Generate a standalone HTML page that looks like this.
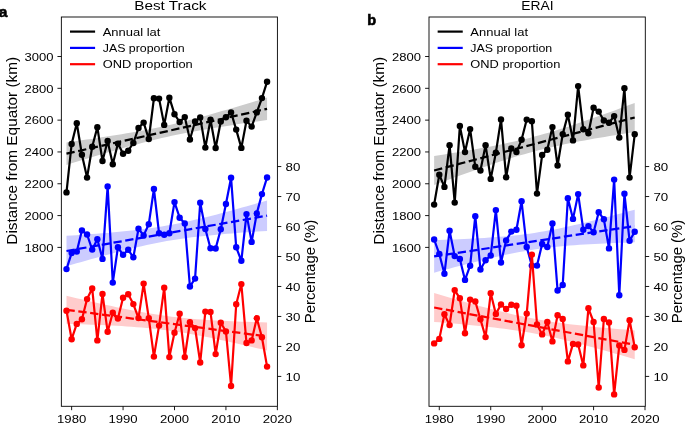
<!DOCTYPE html>
<html><head><meta charset="utf-8"><style>
html,body{margin:0;padding:0;background:#fff;}
body{width:685px;height:423px;overflow:hidden;}
svg{display:block;will-change:transform;}
</style></head><body>
<svg width="685" height="423" viewBox="0 0 685 423" font-family="'Liberation Sans', sans-serif" font-size="11.8" fill="#000">
<rect width="685" height="423" fill="#fff"/>
<path d="M66.49 142.5 L71.51 141.79 L76.52 141.07 L81.54 140.35 L86.55 139.62 L91.57 138.88 L96.58 138.13 L101.59 137.37 L106.61 136.6 L111.62 135.81 L116.64 135.01 L121.65 134.19 L126.67 133.34 L131.68 132.48 L136.69 131.59 L141.71 130.67 L146.72 129.72 L151.74 128.73 L156.75 127.71 L161.77 126.65 L166.78 125.54 L171.8 124.4 L176.81 123.22 L181.82 122 L186.84 120.74 L191.85 119.44 L196.87 118.12 L201.88 116.76 L206.9 115.38 L211.91 113.98 L216.93 112.56 L221.94 111.11 L226.95 109.66 L231.97 108.18 L236.98 106.7 L242 105.2 L247.01 103.7 L252.03 102.18 L257.04 100.66 L262.06 99.13 L267.07 97.6 L267.07 120 L262.06 120.71 L257.04 121.43 L252.03 122.15 L247.01 122.88 L242 123.62 L236.98 124.37 L231.97 125.13 L226.95 125.9 L221.94 126.69 L216.93 127.49 L211.91 128.31 L206.9 129.16 L201.88 130.02 L196.87 130.91 L191.85 131.83 L186.84 132.78 L181.82 133.77 L176.81 134.79 L171.8 135.85 L166.78 136.96 L161.77 138.1 L156.75 139.28 L151.74 140.5 L146.72 141.76 L141.71 143.06 L136.69 144.38 L131.68 145.74 L126.67 147.12 L121.65 148.52 L116.64 149.94 L111.62 151.39 L106.61 152.84 L101.59 154.32 L96.58 155.8 L91.57 157.3 L86.55 158.8 L81.54 160.32 L76.52 161.84 L71.51 163.37 L66.49 164.9 Z" fill="#cccccc" stroke="none"/>
<path d="M66.49 192.4 L71.64 144 L76.78 123.3 L81.92 154.8 L87.06 177.6 L92.21 146.7 L97.35 127.2 L102.49 161 L107.64 141 L112.78 164.2 L117.92 143.6 L123.07 153.7 L128.21 150.7 L133.35 143 L138.5 128 L143.64 122.6 L148.78 139 L153.92 98.3 L159.07 98.6 L164.21 124.9 L169.35 97.7 L174.5 114.2 L179.64 122 L184.78 117.1 L189.92 139.5 L195.07 121.5 L200.21 117.4 L205.35 147.6 L210.5 119.8 L215.64 148 L220.78 121.5 L225.93 117.2 L231.07 112.4 L236.21 129.6 L241.35 147.9 L246.5 120.7 L251.64 126.6 L256.78 112.4 L261.93 98.1 L267.07 81.8" fill="none" stroke="#000" stroke-width="2.2" stroke-linejoin="round"/>
<g fill="#000"><circle cx="66.49" cy="192.4" r="3.2"/><circle cx="71.64" cy="144" r="3.2"/><circle cx="76.78" cy="123.3" r="3.2"/><circle cx="81.92" cy="154.8" r="3.2"/><circle cx="87.06" cy="177.6" r="3.2"/><circle cx="92.21" cy="146.7" r="3.2"/><circle cx="97.35" cy="127.2" r="3.2"/><circle cx="102.49" cy="161" r="3.2"/><circle cx="107.64" cy="141" r="3.2"/><circle cx="112.78" cy="164.2" r="3.2"/><circle cx="117.92" cy="143.6" r="3.2"/><circle cx="123.07" cy="153.7" r="3.2"/><circle cx="128.21" cy="150.7" r="3.2"/><circle cx="133.35" cy="143" r="3.2"/><circle cx="138.5" cy="128" r="3.2"/><circle cx="143.64" cy="122.6" r="3.2"/><circle cx="148.78" cy="139" r="3.2"/><circle cx="153.92" cy="98.3" r="3.2"/><circle cx="159.07" cy="98.6" r="3.2"/><circle cx="164.21" cy="124.9" r="3.2"/><circle cx="169.35" cy="97.7" r="3.2"/><circle cx="174.5" cy="114.2" r="3.2"/><circle cx="179.64" cy="122" r="3.2"/><circle cx="184.78" cy="117.1" r="3.2"/><circle cx="189.92" cy="139.5" r="3.2"/><circle cx="195.07" cy="121.5" r="3.2"/><circle cx="200.21" cy="117.4" r="3.2"/><circle cx="205.35" cy="147.6" r="3.2"/><circle cx="210.5" cy="119.8" r="3.2"/><circle cx="215.64" cy="148" r="3.2"/><circle cx="220.78" cy="121.5" r="3.2"/><circle cx="225.93" cy="117.2" r="3.2"/><circle cx="231.07" cy="112.4" r="3.2"/><circle cx="236.21" cy="129.6" r="3.2"/><circle cx="241.35" cy="147.9" r="3.2"/><circle cx="246.5" cy="120.7" r="3.2"/><circle cx="251.64" cy="126.6" r="3.2"/><circle cx="256.78" cy="112.4" r="3.2"/><circle cx="261.93" cy="98.1" r="3.2"/><circle cx="267.07" cy="81.8" r="3.2"/></g>
<line x1="66.49" y1="153.7" x2="267.07" y2="108.8" stroke="#000" stroke-width="2.25" stroke-dasharray="8.33 3.6"/>
<path d="M66.49 235.8 L71.51 235.48 L76.52 235.14 L81.54 234.8 L86.55 234.45 L91.57 234.09 L96.58 233.71 L101.59 233.32 L106.61 232.92 L111.62 232.49 L116.64 232.04 L121.65 231.57 L126.67 231.07 L131.68 230.53 L136.69 229.96 L141.71 229.36 L146.72 228.71 L151.74 228.01 L156.75 227.26 L161.77 226.46 L166.78 225.61 L171.8 224.7 L176.81 223.73 L181.82 222.71 L186.84 221.65 L191.85 220.53 L196.87 219.37 L201.88 218.18 L206.9 216.95 L211.91 215.68 L216.93 214.39 L221.94 213.07 L226.95 211.74 L231.97 210.38 L236.98 209 L242 207.61 L247.01 206.21 L252.03 204.8 L257.04 203.37 L262.06 201.94 L267.07 200.5 L267.07 230.9 L262.06 231.22 L257.04 231.56 L252.03 231.9 L247.01 232.25 L242 232.61 L236.98 232.99 L231.97 233.38 L226.95 233.78 L221.94 234.21 L216.93 234.66 L211.91 235.13 L206.9 235.63 L201.88 236.17 L196.87 236.74 L191.85 237.34 L186.84 237.99 L181.82 238.69 L176.81 239.44 L171.8 240.24 L166.78 241.09 L161.77 242 L156.75 242.97 L151.74 243.99 L146.72 245.05 L141.71 246.17 L136.69 247.33 L131.68 248.52 L126.67 249.75 L121.65 251.02 L116.64 252.31 L111.62 253.63 L106.61 254.96 L101.59 256.32 L96.58 257.7 L91.57 259.09 L86.55 260.49 L81.54 261.9 L76.52 263.33 L71.51 264.76 L66.49 266.2 Z" fill="#ccccff" stroke="none"/>
<path d="M66.49 269.1 L71.64 253 L76.78 251.6 L81.92 230.4 L87.06 234.5 L92.21 249.6 L97.35 239.2 L102.49 258.9 L107.64 186.4 L112.78 282.6 L117.92 247.3 L123.07 254.8 L128.21 249.8 L133.35 257.3 L138.5 228.8 L143.64 235.4 L148.78 224.2 L153.92 189 L159.07 233.3 L164.21 234.7 L169.35 233.3 L174.5 202.1 L179.64 217.7 L184.78 223.4 L189.92 286.5 L195.07 278.6 L200.21 202.8 L205.35 229 L210.5 248.2 L215.64 248.5 L220.78 229.3 L225.93 204 L231.07 177.8 L236.21 247.3 L241.35 260.8 L246.5 214.1 L251.64 241.9 L256.78 213.4 L261.93 194.1 L267.07 177.5" fill="none" stroke="#0000ff" stroke-width="2.2" stroke-linejoin="round"/>
<g fill="#0000ff"><circle cx="66.49" cy="269.1" r="3.2"/><circle cx="71.64" cy="253" r="3.2"/><circle cx="76.78" cy="251.6" r="3.2"/><circle cx="81.92" cy="230.4" r="3.2"/><circle cx="87.06" cy="234.5" r="3.2"/><circle cx="92.21" cy="249.6" r="3.2"/><circle cx="97.35" cy="239.2" r="3.2"/><circle cx="102.49" cy="258.9" r="3.2"/><circle cx="107.64" cy="186.4" r="3.2"/><circle cx="112.78" cy="282.6" r="3.2"/><circle cx="117.92" cy="247.3" r="3.2"/><circle cx="123.07" cy="254.8" r="3.2"/><circle cx="128.21" cy="249.8" r="3.2"/><circle cx="133.35" cy="257.3" r="3.2"/><circle cx="138.5" cy="228.8" r="3.2"/><circle cx="143.64" cy="235.4" r="3.2"/><circle cx="148.78" cy="224.2" r="3.2"/><circle cx="153.92" cy="189" r="3.2"/><circle cx="159.07" cy="233.3" r="3.2"/><circle cx="164.21" cy="234.7" r="3.2"/><circle cx="169.35" cy="233.3" r="3.2"/><circle cx="174.5" cy="202.1" r="3.2"/><circle cx="179.64" cy="217.7" r="3.2"/><circle cx="184.78" cy="223.4" r="3.2"/><circle cx="189.92" cy="286.5" r="3.2"/><circle cx="195.07" cy="278.6" r="3.2"/><circle cx="200.21" cy="202.8" r="3.2"/><circle cx="205.35" cy="229" r="3.2"/><circle cx="210.5" cy="248.2" r="3.2"/><circle cx="215.64" cy="248.5" r="3.2"/><circle cx="220.78" cy="229.3" r="3.2"/><circle cx="225.93" cy="204" r="3.2"/><circle cx="231.07" cy="177.8" r="3.2"/><circle cx="236.21" cy="247.3" r="3.2"/><circle cx="241.35" cy="260.8" r="3.2"/><circle cx="246.5" cy="214.1" r="3.2"/><circle cx="251.64" cy="241.9" r="3.2"/><circle cx="256.78" cy="213.4" r="3.2"/><circle cx="261.93" cy="194.1" r="3.2"/><circle cx="267.07" cy="177.5" r="3.2"/></g>
<line x1="66.49" y1="251" x2="267.07" y2="215.7" stroke="#0000ff" stroke-width="2.25" stroke-dasharray="8.33 3.6"/>
<path d="M66.49 295.8 L71.51 296.98 L76.52 298.16 L81.54 299.32 L86.55 300.48 L91.57 301.63 L96.58 302.76 L101.59 303.88 L106.61 304.99 L111.62 306.07 L116.64 307.14 L121.65 308.18 L126.67 309.2 L131.68 310.19 L136.69 311.15 L141.71 312.07 L146.72 312.95 L151.74 313.79 L156.75 314.58 L161.77 315.33 L166.78 316.02 L171.8 316.66 L176.81 317.25 L181.82 317.8 L186.84 318.29 L191.85 318.75 L196.87 319.16 L201.88 319.54 L206.9 319.88 L211.91 320.2 L216.93 320.49 L221.94 320.76 L226.95 321.01 L231.97 321.24 L236.98 321.45 L242 321.65 L247.01 321.84 L252.03 322.02 L257.04 322.19 L262.06 322.35 L267.07 322.5 L267.07 350.5 L262.06 349.32 L257.04 348.14 L252.03 346.98 L247.01 345.82 L242 344.67 L236.98 343.54 L231.97 342.42 L226.95 341.31 L221.94 340.23 L216.93 339.16 L211.91 338.12 L206.9 337.1 L201.88 336.11 L196.87 335.15 L191.85 334.23 L186.84 333.35 L181.82 332.51 L176.81 331.72 L171.8 330.97 L166.78 330.28 L161.77 329.64 L156.75 329.05 L151.74 328.5 L146.72 328.01 L141.71 327.55 L136.69 327.14 L131.68 326.76 L126.67 326.42 L121.65 326.1 L116.64 325.81 L111.62 325.54 L106.61 325.29 L101.59 325.06 L96.58 324.85 L91.57 324.65 L86.55 324.46 L81.54 324.28 L76.52 324.11 L71.51 323.95 L66.49 323.8 Z" fill="#ffcccc" stroke="none"/>
<path d="M66.49 310.7 L71.64 339.2 L76.78 323.9 L81.92 319.3 L87.06 299.1 L92.21 288.4 L97.35 340.4 L102.49 293.9 L107.64 331.8 L112.78 312.7 L117.92 318.6 L123.07 297.8 L128.21 294.2 L133.35 304.1 L138.5 318.1 L143.64 283.6 L148.78 318.2 L153.92 356.6 L159.07 325.6 L164.21 287.7 L169.35 357.1 L174.5 332.7 L179.64 313.8 L184.78 357.1 L189.92 322.3 L195.07 328.1 L200.21 362.5 L205.35 311.6 L210.5 311.9 L215.64 354.1 L220.78 322.7 L225.93 331.4 L231.07 386 L236.21 304.3 L241.35 284.1 L246.5 343 L251.64 340.4 L256.78 318.3 L261.93 337.2 L267.07 366.6" fill="none" stroke="#ff0000" stroke-width="2.2" stroke-linejoin="round"/>
<g fill="#ff0000"><circle cx="66.49" cy="310.7" r="3.2"/><circle cx="71.64" cy="339.2" r="3.2"/><circle cx="76.78" cy="323.9" r="3.2"/><circle cx="81.92" cy="319.3" r="3.2"/><circle cx="87.06" cy="299.1" r="3.2"/><circle cx="92.21" cy="288.4" r="3.2"/><circle cx="97.35" cy="340.4" r="3.2"/><circle cx="102.49" cy="293.9" r="3.2"/><circle cx="107.64" cy="331.8" r="3.2"/><circle cx="112.78" cy="312.7" r="3.2"/><circle cx="117.92" cy="318.6" r="3.2"/><circle cx="123.07" cy="297.8" r="3.2"/><circle cx="128.21" cy="294.2" r="3.2"/><circle cx="133.35" cy="304.1" r="3.2"/><circle cx="138.5" cy="318.1" r="3.2"/><circle cx="143.64" cy="283.6" r="3.2"/><circle cx="148.78" cy="318.2" r="3.2"/><circle cx="153.92" cy="356.6" r="3.2"/><circle cx="159.07" cy="325.6" r="3.2"/><circle cx="164.21" cy="287.7" r="3.2"/><circle cx="169.35" cy="357.1" r="3.2"/><circle cx="174.5" cy="332.7" r="3.2"/><circle cx="179.64" cy="313.8" r="3.2"/><circle cx="184.78" cy="357.1" r="3.2"/><circle cx="189.92" cy="322.3" r="3.2"/><circle cx="195.07" cy="328.1" r="3.2"/><circle cx="200.21" cy="362.5" r="3.2"/><circle cx="205.35" cy="311.6" r="3.2"/><circle cx="210.5" cy="311.9" r="3.2"/><circle cx="215.64" cy="354.1" r="3.2"/><circle cx="220.78" cy="322.7" r="3.2"/><circle cx="225.93" cy="331.4" r="3.2"/><circle cx="231.07" cy="386" r="3.2"/><circle cx="236.21" cy="304.3" r="3.2"/><circle cx="241.35" cy="284.1" r="3.2"/><circle cx="246.5" cy="343" r="3.2"/><circle cx="251.64" cy="340.4" r="3.2"/><circle cx="256.78" cy="318.3" r="3.2"/><circle cx="261.93" cy="337.2" r="3.2"/><circle cx="267.07" cy="366.6" r="3.2"/></g>
<line x1="66.49" y1="309.8" x2="267.07" y2="336.5" stroke="#ff0000" stroke-width="2.25" stroke-dasharray="8.33 3.6"/>
<rect x="61.35" y="17" width="216.05" height="389.3" fill="none" stroke="#000" stroke-width="0.9"/>
<line x1="57.45" y1="56.5" x2="61.35" y2="56.5" stroke="#000" stroke-width="0.9"/>
<text x="53.45" y="60.7" text-anchor="end" textLength="29.0" lengthAdjust="spacingAndGlyphs">3000</text>
<line x1="57.45" y1="88.32" x2="61.35" y2="88.32" stroke="#000" stroke-width="0.9"/>
<text x="53.45" y="92.52" text-anchor="end" textLength="29.0" lengthAdjust="spacingAndGlyphs">2800</text>
<line x1="57.45" y1="120.13" x2="61.35" y2="120.13" stroke="#000" stroke-width="0.9"/>
<text x="53.45" y="124.33" text-anchor="end" textLength="29.0" lengthAdjust="spacingAndGlyphs">2600</text>
<line x1="57.45" y1="151.95" x2="61.35" y2="151.95" stroke="#000" stroke-width="0.9"/>
<text x="53.45" y="156.15" text-anchor="end" textLength="29.0" lengthAdjust="spacingAndGlyphs">2400</text>
<line x1="57.45" y1="183.76" x2="61.35" y2="183.76" stroke="#000" stroke-width="0.9"/>
<text x="53.45" y="187.96" text-anchor="end" textLength="29.0" lengthAdjust="spacingAndGlyphs">2200</text>
<line x1="57.45" y1="215.58" x2="61.35" y2="215.58" stroke="#000" stroke-width="0.9"/>
<text x="53.45" y="219.78" text-anchor="end" textLength="29.0" lengthAdjust="spacingAndGlyphs">2000</text>
<line x1="57.45" y1="247.4" x2="61.35" y2="247.4" stroke="#000" stroke-width="0.9"/>
<text x="53.45" y="251.6" text-anchor="end" textLength="29.0" lengthAdjust="spacingAndGlyphs">1800</text>
<line x1="277.4" y1="166.56" x2="281.3" y2="166.56" stroke="#000" stroke-width="0.9"/>
<text x="285.5" y="170.76" textLength="14.8" lengthAdjust="spacingAndGlyphs">80</text>
<line x1="277.4" y1="196.54" x2="281.3" y2="196.54" stroke="#000" stroke-width="0.9"/>
<text x="285.5" y="200.74" textLength="14.8" lengthAdjust="spacingAndGlyphs">70</text>
<line x1="277.4" y1="226.52" x2="281.3" y2="226.52" stroke="#000" stroke-width="0.9"/>
<text x="285.5" y="230.72" textLength="14.8" lengthAdjust="spacingAndGlyphs">60</text>
<line x1="277.4" y1="256.5" x2="281.3" y2="256.5" stroke="#000" stroke-width="0.9"/>
<text x="285.5" y="260.7" textLength="14.8" lengthAdjust="spacingAndGlyphs">50</text>
<line x1="277.4" y1="286.48" x2="281.3" y2="286.48" stroke="#000" stroke-width="0.9"/>
<text x="285.5" y="290.68" textLength="14.8" lengthAdjust="spacingAndGlyphs">40</text>
<line x1="277.4" y1="316.46" x2="281.3" y2="316.46" stroke="#000" stroke-width="0.9"/>
<text x="285.5" y="320.66" textLength="14.8" lengthAdjust="spacingAndGlyphs">30</text>
<line x1="277.4" y1="346.44" x2="281.3" y2="346.44" stroke="#000" stroke-width="0.9"/>
<text x="285.5" y="350.64" textLength="14.8" lengthAdjust="spacingAndGlyphs">20</text>
<line x1="277.4" y1="376.42" x2="281.3" y2="376.42" stroke="#000" stroke-width="0.9"/>
<text x="285.5" y="380.62" textLength="14.8" lengthAdjust="spacingAndGlyphs">10</text>
<line x1="71.64" y1="406.3" x2="71.64" y2="410.2" stroke="#000" stroke-width="0.9"/>
<text x="71.64" y="422.7" text-anchor="middle" textLength="29.2" lengthAdjust="spacingAndGlyphs">1980</text>
<line x1="123.07" y1="406.3" x2="123.07" y2="410.2" stroke="#000" stroke-width="0.9"/>
<text x="123.07" y="422.7" text-anchor="middle" textLength="29.2" lengthAdjust="spacingAndGlyphs">1990</text>
<line x1="174.5" y1="406.3" x2="174.5" y2="410.2" stroke="#000" stroke-width="0.9"/>
<text x="174.5" y="422.7" text-anchor="middle" textLength="29.2" lengthAdjust="spacingAndGlyphs">2000</text>
<line x1="225.93" y1="406.3" x2="225.93" y2="410.2" stroke="#000" stroke-width="0.9"/>
<text x="225.93" y="422.7" text-anchor="middle" textLength="29.2" lengthAdjust="spacingAndGlyphs">2010</text>
<line x1="277.36" y1="406.3" x2="277.36" y2="410.2" stroke="#000" stroke-width="0.9"/>
<text x="277.36" y="422.7" text-anchor="middle" textLength="29.2" lengthAdjust="spacingAndGlyphs">2020</text>
<line x1="70" y1="31.6" x2="95.1" y2="31.6" stroke="#000" stroke-width="2.2"/>
<text x="102.7" y="35.8" textLength="57.7" lengthAdjust="spacingAndGlyphs">Annual lat</text>
<line x1="70" y1="47.9" x2="95.1" y2="47.9" stroke="#0000ff" stroke-width="2.2"/>
<text x="102.7" y="52.1" textLength="81.9" lengthAdjust="spacingAndGlyphs">JAS proportion</text>
<line x1="70" y1="64.2" x2="95.1" y2="64.2" stroke="#ff0000" stroke-width="2.2"/>
<text x="102.7" y="68.4" textLength="90" lengthAdjust="spacingAndGlyphs">OND proportion</text>
<text x="170.35" y="10.2" text-anchor="middle" font-size="13.5" textLength="72.3" lengthAdjust="spacingAndGlyphs">Best Track</text>
<path d="M434.14 156 L439.16 155.21 L444.17 154.41 L449.19 153.6 L454.2 152.78 L459.22 151.95 L464.23 151.11 L469.24 150.26 L474.26 149.38 L479.27 148.49 L484.29 147.58 L489.3 146.65 L494.32 145.69 L499.33 144.69 L504.34 143.67 L509.36 142.61 L514.37 141.5 L519.39 140.36 L524.4 139.16 L529.42 137.91 L534.43 136.61 L539.45 135.26 L544.46 133.86 L549.47 132.41 L554.49 130.9 L559.5 129.36 L564.52 127.77 L569.53 126.14 L574.55 124.49 L579.56 122.8 L584.58 121.08 L589.59 119.34 L594.6 117.58 L599.62 115.81 L604.63 114.01 L609.65 112.2 L614.66 110.38 L619.68 108.55 L624.69 106.71 L629.71 104.86 L634.72 103 L634.72 132 L629.71 132.79 L624.69 133.59 L619.68 134.4 L614.66 135.22 L609.65 136.05 L604.63 136.89 L599.62 137.74 L594.6 138.62 L589.59 139.51 L584.58 140.42 L579.56 141.35 L574.55 142.31 L569.53 143.31 L564.52 144.33 L559.5 145.39 L554.49 146.5 L549.47 147.64 L544.46 148.84 L539.45 150.09 L534.43 151.39 L529.42 152.74 L524.4 154.14 L519.39 155.59 L514.37 157.1 L509.36 158.64 L504.34 160.23 L499.33 161.86 L494.32 163.51 L489.3 165.2 L484.29 166.92 L479.27 168.66 L474.26 170.42 L469.24 172.19 L464.23 173.99 L459.22 175.8 L454.2 177.62 L449.19 179.45 L444.17 181.29 L439.16 183.14 L434.14 185 Z" fill="#cccccc" stroke="none"/>
<path d="M434.14 204.6 L439.29 174.8 L444.43 186.9 L449.57 145.2 L454.71 202.6 L459.86 126 L465 152.1 L470.14 129.1 L475.29 166.8 L480.43 170.5 L485.57 145.2 L490.72 178.9 L495.86 152.7 L501 119.4 L506.14 177.2 L511.29 148.4 L516.43 152.1 L521.57 139.8 L526.72 119.6 L531.86 121.3 L537 193.6 L542.15 155 L547.29 149.8 L552.43 127.1 L557.58 165.5 L562.72 134.1 L567.86 114.8 L573 140.4 L578.15 86.1 L583.29 129.3 L588.43 133.3 L593.58 107.8 L598.72 111.6 L603.86 120.5 L609 122.7 L614.15 116.1 L619.29 137.6 L624.43 88.2 L629.58 177.6 L634.72 134.3" fill="none" stroke="#000" stroke-width="2.2" stroke-linejoin="round"/>
<g fill="#000"><circle cx="434.14" cy="204.6" r="3.2"/><circle cx="439.29" cy="174.8" r="3.2"/><circle cx="444.43" cy="186.9" r="3.2"/><circle cx="449.57" cy="145.2" r="3.2"/><circle cx="454.71" cy="202.6" r="3.2"/><circle cx="459.86" cy="126" r="3.2"/><circle cx="465" cy="152.1" r="3.2"/><circle cx="470.14" cy="129.1" r="3.2"/><circle cx="475.29" cy="166.8" r="3.2"/><circle cx="480.43" cy="170.5" r="3.2"/><circle cx="485.57" cy="145.2" r="3.2"/><circle cx="490.72" cy="178.9" r="3.2"/><circle cx="495.86" cy="152.7" r="3.2"/><circle cx="501" cy="119.4" r="3.2"/><circle cx="506.14" cy="177.2" r="3.2"/><circle cx="511.29" cy="148.4" r="3.2"/><circle cx="516.43" cy="152.1" r="3.2"/><circle cx="521.57" cy="139.8" r="3.2"/><circle cx="526.72" cy="119.6" r="3.2"/><circle cx="531.86" cy="121.3" r="3.2"/><circle cx="537" cy="193.6" r="3.2"/><circle cx="542.15" cy="155" r="3.2"/><circle cx="547.29" cy="149.8" r="3.2"/><circle cx="552.43" cy="127.1" r="3.2"/><circle cx="557.58" cy="165.5" r="3.2"/><circle cx="562.72" cy="134.1" r="3.2"/><circle cx="567.86" cy="114.8" r="3.2"/><circle cx="573" cy="140.4" r="3.2"/><circle cx="578.15" cy="86.1" r="3.2"/><circle cx="583.29" cy="129.3" r="3.2"/><circle cx="588.43" cy="133.3" r="3.2"/><circle cx="593.58" cy="107.8" r="3.2"/><circle cx="598.72" cy="111.6" r="3.2"/><circle cx="603.86" cy="120.5" r="3.2"/><circle cx="609" cy="122.7" r="3.2"/><circle cx="614.15" cy="116.1" r="3.2"/><circle cx="619.29" cy="137.6" r="3.2"/><circle cx="624.43" cy="88.2" r="3.2"/><circle cx="629.58" cy="177.6" r="3.2"/><circle cx="634.72" cy="134.3" r="3.2"/></g>
<line x1="434.14" y1="170.5" x2="634.72" y2="117.5" stroke="#000" stroke-width="2.25" stroke-dasharray="8.33 3.6"/>
<path d="M434.14 240.1 L439.16 239.94 L444.17 239.77 L449.19 239.59 L454.2 239.4 L459.22 239.2 L464.23 238.98 L469.24 238.75 L474.26 238.5 L479.27 238.23 L484.29 237.93 L489.3 237.61 L494.32 237.26 L499.33 236.87 L504.34 236.45 L509.36 235.99 L514.37 235.48 L519.39 234.91 L524.4 234.3 L529.42 233.63 L534.43 232.9 L539.45 232.11 L544.46 231.26 L549.47 230.35 L554.49 229.4 L559.5 228.39 L564.52 227.33 L569.53 226.23 L574.55 225.1 L579.56 223.93 L584.58 222.73 L589.59 221.51 L594.6 220.26 L599.62 218.99 L604.63 217.7 L609.65 216.4 L614.66 215.08 L619.68 213.75 L624.69 212.41 L629.71 211.06 L634.72 209.7 L634.72 242.3 L629.71 242.46 L624.69 242.63 L619.68 242.81 L614.66 243 L609.65 243.2 L604.63 243.42 L599.62 243.65 L594.6 243.9 L589.59 244.17 L584.58 244.47 L579.56 244.79 L574.55 245.14 L569.53 245.53 L564.52 245.95 L559.5 246.41 L554.49 246.92 L549.47 247.49 L544.46 248.1 L539.45 248.77 L534.43 249.5 L529.42 250.29 L524.4 251.14 L519.39 252.05 L514.37 253 L509.36 254.01 L504.34 255.07 L499.33 256.17 L494.32 257.3 L489.3 258.47 L484.29 259.67 L479.27 260.89 L474.26 262.14 L469.24 263.41 L464.23 264.7 L459.22 266 L454.2 267.32 L449.19 268.65 L444.17 269.99 L439.16 271.34 L434.14 272.7 Z" fill="#ccccff" stroke="none"/>
<path d="M434.14 239.5 L439.29 253.9 L444.43 273.8 L449.57 230.8 L454.71 256.1 L459.86 258.9 L465 279.9 L470.14 265.7 L475.29 216.2 L480.43 269.5 L485.57 260.2 L490.72 255.5 L495.86 210.1 L501 262.5 L506.14 240.4 L511.29 231.6 L516.43 229.7 L521.57 201.3 L526.72 247 L531.86 265.6 L537 265.6 L542.15 244 L547.29 247 L552.43 223.5 L557.58 290.5 L562.72 285 L567.86 198.2 L573 218.9 L578.15 194.1 L583.29 229.7 L588.43 226.1 L593.58 232.2 L598.72 212.2 L603.86 219.3 L609 248.4 L614.15 179.6 L619.29 295.2 L624.43 193.7 L629.58 240.8 L634.72 231.7" fill="none" stroke="#0000ff" stroke-width="2.2" stroke-linejoin="round"/>
<g fill="#0000ff"><circle cx="434.14" cy="239.5" r="3.2"/><circle cx="439.29" cy="253.9" r="3.2"/><circle cx="444.43" cy="273.8" r="3.2"/><circle cx="449.57" cy="230.8" r="3.2"/><circle cx="454.71" cy="256.1" r="3.2"/><circle cx="459.86" cy="258.9" r="3.2"/><circle cx="465" cy="279.9" r="3.2"/><circle cx="470.14" cy="265.7" r="3.2"/><circle cx="475.29" cy="216.2" r="3.2"/><circle cx="480.43" cy="269.5" r="3.2"/><circle cx="485.57" cy="260.2" r="3.2"/><circle cx="490.72" cy="255.5" r="3.2"/><circle cx="495.86" cy="210.1" r="3.2"/><circle cx="501" cy="262.5" r="3.2"/><circle cx="506.14" cy="240.4" r="3.2"/><circle cx="511.29" cy="231.6" r="3.2"/><circle cx="516.43" cy="229.7" r="3.2"/><circle cx="521.57" cy="201.3" r="3.2"/><circle cx="526.72" cy="247" r="3.2"/><circle cx="531.86" cy="265.6" r="3.2"/><circle cx="537" cy="265.6" r="3.2"/><circle cx="542.15" cy="244" r="3.2"/><circle cx="547.29" cy="247" r="3.2"/><circle cx="552.43" cy="223.5" r="3.2"/><circle cx="557.58" cy="290.5" r="3.2"/><circle cx="562.72" cy="285" r="3.2"/><circle cx="567.86" cy="198.2" r="3.2"/><circle cx="573" cy="218.9" r="3.2"/><circle cx="578.15" cy="194.1" r="3.2"/><circle cx="583.29" cy="229.7" r="3.2"/><circle cx="588.43" cy="226.1" r="3.2"/><circle cx="593.58" cy="232.2" r="3.2"/><circle cx="598.72" cy="212.2" r="3.2"/><circle cx="603.86" cy="219.3" r="3.2"/><circle cx="609" cy="248.4" r="3.2"/><circle cx="614.15" cy="179.6" r="3.2"/><circle cx="619.29" cy="295.2" r="3.2"/><circle cx="624.43" cy="193.7" r="3.2"/><circle cx="629.58" cy="240.8" r="3.2"/><circle cx="634.72" cy="231.7" r="3.2"/></g>
<line x1="434.14" y1="256.4" x2="634.72" y2="226" stroke="#0000ff" stroke-width="2.25" stroke-dasharray="8.33 3.6"/>
<path d="M434.14 293.1 L439.16 294.56 L444.17 296.02 L449.19 297.46 L454.2 298.9 L459.22 300.32 L464.23 301.74 L469.24 303.13 L474.26 304.52 L479.27 305.88 L484.29 307.22 L489.3 308.54 L494.32 309.84 L499.33 311.1 L504.34 312.33 L509.36 313.52 L514.37 314.68 L519.39 315.79 L524.4 316.85 L529.42 317.86 L534.43 318.81 L539.45 319.72 L544.46 320.58 L549.47 321.38 L554.49 322.14 L559.5 322.85 L564.52 323.52 L569.53 324.16 L574.55 324.76 L579.56 325.33 L584.58 325.87 L589.59 326.39 L594.6 326.9 L599.62 327.38 L604.63 327.85 L609.65 328.3 L614.66 328.74 L619.68 329.17 L624.69 329.59 L629.71 330 L634.72 330.4 L634.72 359.2 L629.71 357.74 L624.69 356.28 L619.68 354.84 L614.66 353.4 L609.65 351.98 L604.63 350.56 L599.62 349.17 L594.6 347.78 L589.59 346.42 L584.58 345.08 L579.56 343.76 L574.55 342.46 L569.53 341.2 L564.52 339.97 L559.5 338.78 L554.49 337.62 L549.47 336.51 L544.46 335.45 L539.45 334.44 L534.43 333.49 L529.42 332.58 L524.4 331.72 L519.39 330.92 L514.37 330.16 L509.36 329.45 L504.34 328.78 L499.33 328.14 L494.32 327.54 L489.3 326.97 L484.29 326.43 L479.27 325.91 L474.26 325.4 L469.24 324.92 L464.23 324.45 L459.22 324 L454.2 323.56 L449.19 323.13 L444.17 322.71 L439.16 322.3 L434.14 321.9 Z" fill="#ffcccc" stroke="none"/>
<path d="M434.14 343.4 L439.29 338.9 L444.43 314.3 L449.57 325.1 L454.71 290.1 L459.86 298.3 L465 333.2 L470.14 299.6 L475.29 301.5 L480.43 319.3 L485.57 337.1 L490.72 293.2 L495.86 313.9 L501 304.5 L506.14 309 L511.29 304.8 L516.43 305.8 L521.57 345.2 L526.72 313.6 L531.86 254.6 L537 324.5 L542.15 334.4 L547.29 322 L552.43 341.4 L557.58 315.2 L562.72 319 L567.86 361.4 L573 343.9 L578.15 344.4 L583.29 365.4 L588.43 308.3 L593.58 322 L598.72 387.5 L603.86 319 L609 322.4 L614.15 394.4 L619.29 345.4 L624.43 349.9 L629.58 320.3 L634.72 347.2" fill="none" stroke="#ff0000" stroke-width="2.2" stroke-linejoin="round"/>
<g fill="#ff0000"><circle cx="434.14" cy="343.4" r="3.2"/><circle cx="439.29" cy="338.9" r="3.2"/><circle cx="444.43" cy="314.3" r="3.2"/><circle cx="449.57" cy="325.1" r="3.2"/><circle cx="454.71" cy="290.1" r="3.2"/><circle cx="459.86" cy="298.3" r="3.2"/><circle cx="465" cy="333.2" r="3.2"/><circle cx="470.14" cy="299.6" r="3.2"/><circle cx="475.29" cy="301.5" r="3.2"/><circle cx="480.43" cy="319.3" r="3.2"/><circle cx="485.57" cy="337.1" r="3.2"/><circle cx="490.72" cy="293.2" r="3.2"/><circle cx="495.86" cy="313.9" r="3.2"/><circle cx="501" cy="304.5" r="3.2"/><circle cx="506.14" cy="309" r="3.2"/><circle cx="511.29" cy="304.8" r="3.2"/><circle cx="516.43" cy="305.8" r="3.2"/><circle cx="521.57" cy="345.2" r="3.2"/><circle cx="526.72" cy="313.6" r="3.2"/><circle cx="531.86" cy="254.6" r="3.2"/><circle cx="537" cy="324.5" r="3.2"/><circle cx="542.15" cy="334.4" r="3.2"/><circle cx="547.29" cy="322" r="3.2"/><circle cx="552.43" cy="341.4" r="3.2"/><circle cx="557.58" cy="315.2" r="3.2"/><circle cx="562.72" cy="319" r="3.2"/><circle cx="567.86" cy="361.4" r="3.2"/><circle cx="573" cy="343.9" r="3.2"/><circle cx="578.15" cy="344.4" r="3.2"/><circle cx="583.29" cy="365.4" r="3.2"/><circle cx="588.43" cy="308.3" r="3.2"/><circle cx="593.58" cy="322" r="3.2"/><circle cx="598.72" cy="387.5" r="3.2"/><circle cx="603.86" cy="319" r="3.2"/><circle cx="609" cy="322.4" r="3.2"/><circle cx="614.15" cy="394.4" r="3.2"/><circle cx="619.29" cy="345.4" r="3.2"/><circle cx="624.43" cy="349.9" r="3.2"/><circle cx="629.58" cy="320.3" r="3.2"/><circle cx="634.72" cy="347.2" r="3.2"/></g>
<line x1="434.14" y1="307.5" x2="634.72" y2="344.8" stroke="#ff0000" stroke-width="2.25" stroke-dasharray="8.33 3.6"/>
<rect x="429" y="17" width="216.3" height="389.3" fill="none" stroke="#000" stroke-width="0.9"/>
<line x1="425.1" y1="56.5" x2="429" y2="56.5" stroke="#000" stroke-width="0.9"/>
<text x="421.1" y="60.7" text-anchor="end" textLength="29.0" lengthAdjust="spacingAndGlyphs">2800</text>
<line x1="425.1" y1="88.32" x2="429" y2="88.32" stroke="#000" stroke-width="0.9"/>
<text x="421.1" y="92.52" text-anchor="end" textLength="29.0" lengthAdjust="spacingAndGlyphs">2600</text>
<line x1="425.1" y1="120.13" x2="429" y2="120.13" stroke="#000" stroke-width="0.9"/>
<text x="421.1" y="124.33" text-anchor="end" textLength="29.0" lengthAdjust="spacingAndGlyphs">2400</text>
<line x1="425.1" y1="151.95" x2="429" y2="151.95" stroke="#000" stroke-width="0.9"/>
<text x="421.1" y="156.15" text-anchor="end" textLength="29.0" lengthAdjust="spacingAndGlyphs">2200</text>
<line x1="425.1" y1="183.76" x2="429" y2="183.76" stroke="#000" stroke-width="0.9"/>
<text x="421.1" y="187.96" text-anchor="end" textLength="29.0" lengthAdjust="spacingAndGlyphs">2000</text>
<line x1="425.1" y1="215.58" x2="429" y2="215.58" stroke="#000" stroke-width="0.9"/>
<text x="421.1" y="219.78" text-anchor="end" textLength="29.0" lengthAdjust="spacingAndGlyphs">1800</text>
<line x1="425.1" y1="247.4" x2="429" y2="247.4" stroke="#000" stroke-width="0.9"/>
<text x="421.1" y="251.6" text-anchor="end" textLength="29.0" lengthAdjust="spacingAndGlyphs">1600</text>
<line x1="645.3" y1="166.56" x2="649.2" y2="166.56" stroke="#000" stroke-width="0.9"/>
<text x="653.4" y="170.76" textLength="14.8" lengthAdjust="spacingAndGlyphs">80</text>
<line x1="645.3" y1="196.54" x2="649.2" y2="196.54" stroke="#000" stroke-width="0.9"/>
<text x="653.4" y="200.74" textLength="14.8" lengthAdjust="spacingAndGlyphs">70</text>
<line x1="645.3" y1="226.52" x2="649.2" y2="226.52" stroke="#000" stroke-width="0.9"/>
<text x="653.4" y="230.72" textLength="14.8" lengthAdjust="spacingAndGlyphs">60</text>
<line x1="645.3" y1="256.5" x2="649.2" y2="256.5" stroke="#000" stroke-width="0.9"/>
<text x="653.4" y="260.7" textLength="14.8" lengthAdjust="spacingAndGlyphs">50</text>
<line x1="645.3" y1="286.48" x2="649.2" y2="286.48" stroke="#000" stroke-width="0.9"/>
<text x="653.4" y="290.68" textLength="14.8" lengthAdjust="spacingAndGlyphs">40</text>
<line x1="645.3" y1="316.46" x2="649.2" y2="316.46" stroke="#000" stroke-width="0.9"/>
<text x="653.4" y="320.66" textLength="14.8" lengthAdjust="spacingAndGlyphs">30</text>
<line x1="645.3" y1="346.44" x2="649.2" y2="346.44" stroke="#000" stroke-width="0.9"/>
<text x="653.4" y="350.64" textLength="14.8" lengthAdjust="spacingAndGlyphs">20</text>
<line x1="645.3" y1="376.42" x2="649.2" y2="376.42" stroke="#000" stroke-width="0.9"/>
<text x="653.4" y="380.62" textLength="14.8" lengthAdjust="spacingAndGlyphs">10</text>
<line x1="439.29" y1="406.3" x2="439.29" y2="410.2" stroke="#000" stroke-width="0.9"/>
<text x="439.29" y="422.7" text-anchor="middle" textLength="29.2" lengthAdjust="spacingAndGlyphs">1980</text>
<line x1="490.72" y1="406.3" x2="490.72" y2="410.2" stroke="#000" stroke-width="0.9"/>
<text x="490.72" y="422.7" text-anchor="middle" textLength="29.2" lengthAdjust="spacingAndGlyphs">1990</text>
<line x1="542.15" y1="406.3" x2="542.15" y2="410.2" stroke="#000" stroke-width="0.9"/>
<text x="542.15" y="422.7" text-anchor="middle" textLength="29.2" lengthAdjust="spacingAndGlyphs">2000</text>
<line x1="593.58" y1="406.3" x2="593.58" y2="410.2" stroke="#000" stroke-width="0.9"/>
<text x="593.58" y="422.7" text-anchor="middle" textLength="29.2" lengthAdjust="spacingAndGlyphs">2010</text>
<line x1="645.01" y1="406.3" x2="645.01" y2="410.2" stroke="#000" stroke-width="0.9"/>
<text x="645.01" y="422.7" text-anchor="middle" textLength="29.2" lengthAdjust="spacingAndGlyphs">2020</text>
<line x1="437.65" y1="31.6" x2="462.75" y2="31.6" stroke="#000" stroke-width="2.2"/>
<text x="470.35" y="35.8" textLength="57.7" lengthAdjust="spacingAndGlyphs">Annual lat</text>
<line x1="437.65" y1="47.9" x2="462.75" y2="47.9" stroke="#0000ff" stroke-width="2.2"/>
<text x="470.35" y="52.1" textLength="81.9" lengthAdjust="spacingAndGlyphs">JAS proportion</text>
<line x1="437.65" y1="64.2" x2="462.75" y2="64.2" stroke="#ff0000" stroke-width="2.2"/>
<text x="470.35" y="68.4" textLength="90" lengthAdjust="spacingAndGlyphs">OND proportion</text>
<text x="537.45" y="10.2" text-anchor="middle" font-size="13.5" textLength="32.3" lengthAdjust="spacingAndGlyphs">ERAI</text>
<text transform="translate(16.7 150.75) rotate(-90)" text-anchor="middle" font-size="14" textLength="187.85" lengthAdjust="spacingAndGlyphs">Distance from Equator (km)</text>
<text transform="translate(314.5 271.5) rotate(-90)" text-anchor="middle" font-size="14" textLength="103.6" lengthAdjust="spacingAndGlyphs">Percentage (%)</text>
<text transform="translate(384.35 150.75) rotate(-90)" text-anchor="middle" font-size="14" textLength="187.85" lengthAdjust="spacingAndGlyphs">Distance from Equator (km)</text>
<text transform="translate(682.15 271.5) rotate(-90)" text-anchor="middle" font-size="14" textLength="103.6" lengthAdjust="spacingAndGlyphs">Percentage (%)</text>
<text x="-1.3" y="17" font-size="15.5" font-weight="bold" stroke="#000" stroke-width="0.6">a</text>
<text x="367.2" y="24.8" font-size="14.5" font-weight="bold" stroke="#000" stroke-width="0.6">b</text>
</svg>
</body></html>
